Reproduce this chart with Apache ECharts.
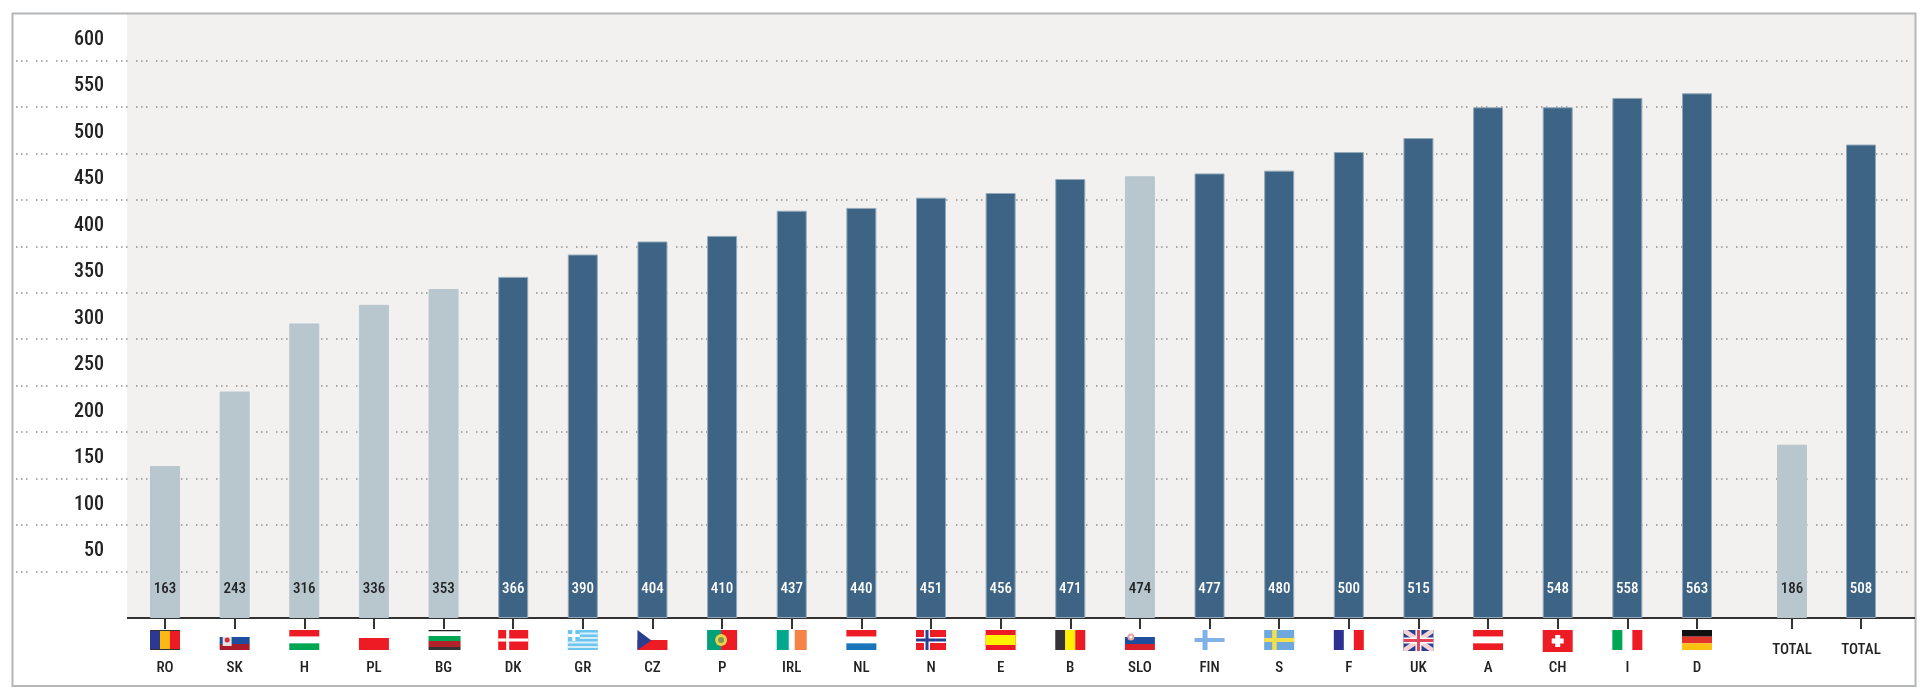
<!DOCTYPE html>
<html>
<head>
<meta charset="utf-8">
<style>html,body{margin:0;padding:0;background:#fff}#c{width:1921px;height:689px}</style>
<script src="https://cdn.jsdelivr.net/npm/echarts@6/dist/echarts.min.js"></script>
</head>
<body>
<div id="c"></div>
<script>
const countries = ['RO','SK','H','PL','BG','DK','GR','CZ','P','IRL','NL','N','E','B','SLO','FIN','S','F','UK','A','CH','I','D'];
const countryValues = [163,243,316,336,353,366,390,404,410,437,440,451,456,471,474,477,480,500,515,548,548,558,563];
const totalLabels = ['TOTAL','TOTAL'];
const totalValues = [186,508];
const lightCountries = ['RO','SK','H','PL','BG','SLO'];
const lightTotals = [0];
const unlabelled = ['A'];
const yTicks = [50,100,150,200,250,300,350,400,450,500,550,600];

const DARK = '#3e6485', LIGHT = '#b8c6ce', R = '#ed1c24', W = '#ffffff';
function rows(cols) { const h = 20 / cols.length; return cols.map((c, i) => ['r', 0, i * h, 30, h, c]); }
function colsF(cols) { const w = 30 / cols.length; return cols.map((c, i) => ['r', i * w, 0, w, 20, c]); }
const flags = {
  RO: colsF(['#2b3990', '#fdb913', R]).concat([['r', 0, 0, 30, 1, '#333'], ['r', 0, 19, 30, 1, '#333']]),
  SK: [['r', 0, 7, 30, 7, '#1f4e9c'], ['r', 0, 14, 30, 6, '#a81c2c'], ['r', 3, 7, 9, 9, '#e8dfe0'], ['c', 7.5, 10, 2.5, '#c33']],
  H: rows([R, W, '#00a651']),
  PL: [['r', 0, 8, 30, 12, R]],
  BG: [['r', 0, 0, 32, 1.2, '#222'], ['r', 0, 6, 32, 5, '#00a651'], ['r', 0, 11, 32, 6, '#b5212a'], ['r', 0, 17, 32, 3, '#333']],
  DK: [['r', 0, 0, 30, 20, R], ['r', 8, 0, 3, 20, W], ['r', 0, 8.5, 30, 3, W]],
  GR: [['r', 0, 0, 30, 20, '#6cc5ee'], ['r', 12, 2.5, 18, 2, '#d5eefa'], ['r', 12, 7, 18, 2, '#d5eefa'], ['r', 0, 11.5, 30, 2, '#d5eefa'], ['r', 0, 16, 30, 2, '#d5eefa'], ['r', 4.5, 0, 3, 11, W], ['r', 0, 4, 12, 3, W]],
  CZ: [['r', 0, 10, 30, 10, R], ['p', [[0, 0], [14, 10.5], [0, 20]], '#2b3f8f']],
  P: [['r', 0, 0, 14, 20, '#00a07a'], ['r', 14, 0, 16, 20, R], ['c', 14, 10, 6, '#e8d44a'], ['c', 14, 10, 3, '#7d9a5c']],
  IRL: [['r', 0, 0, 12, 20, '#00a88f'], ['r', 18, 0, 12, 20, '#f58345']],
  NL: rows([R, W, '#1b75bb']),
  N: [['r', 0, 0, 30, 20, R], ['r', 8, 0, 6, 20, W], ['r', 0, 7, 30, 6, W], ['r', 9.5, 0, 3, 20, '#2b3f8f'], ['r', 0, 8.5, 30, 3, '#2b3f8f']],
  E: [['r', 0, 0, 30, 20, R], ['r', 0, 5, 30, 10, '#fff200']],
  B: colsF(['#333338', '#fff200', R]),
  SLO: [['r', 0, 7, 30, 7, '#1f4e9c'], ['r', 0, 14, 30, 6, '#d8202c'], ['c', 6, 7, 3.5, '#e7a0a0'], ['c', 6, 7, 1.6, W]],
  FIN: [['r', 8, 0, 5, 20, '#7fb2e5'], ['r', 0, 8, 30, 4, '#7fb2e5']],
  S: [['r', 0, 0, 30, 20, '#6fa8dc'], ['r', 8, 0, 4.5, 20, '#f4e04d'], ['r', 0, 8, 30, 4, '#f4e04d']],
  F: [['r', 0, 0, 10, 20, '#2f3192'], ['r', 20, 0, 10, 20, R]],
  UK: [['r', 0, 0, 30, 21, '#2b3f8f'], ['p', [[0, 0], [4, 0], [30, 18], [30, 21], [26, 21], [0, 3]], '#f3d3d6'], ['p', [[30, 0], [26, 0], [0, 18], [0, 21], [4, 21], [30, 3]], '#f3d3d6'], ['r', 12, 0, 6, 21, W], ['r', 0, 7.5, 30, 6, W], ['r', 13.5, 0, 3, 21, '#e0455a'], ['r', 0, 9, 30, 3, '#e0455a']],
  A: rows([R, W, R]),
  CH: [['r', 0, 0, 30, 22, R], ['r', 12.5, 5, 5, 12, W], ['r', 9, 8.5, 12, 5, W]],
  I: [['r', 0, 0, 10, 20, '#00a651'], ['r', 20, 0, 10, 20, R]],
  D: rows(['#111111', '#e3342a', '#fdc20f'])
};

const LABEL_FONT = '"Roboto Condensed","Liberation Sans",sans-serif';
const PLOT_TOP = 14, PLOT_H = 604, AXIS_MAX = 650;
const BAR_TOP = 12.2, BAR_H = 605.8;

function barData(values, isLight, hasLabel) {
  return values.map((v, i) => {
    const light = isLight(i);
    return {
      value: v,
      itemStyle: { color: light ? LIGHT : DARK, borderColor: light ? LIGHT : '#93a9ba', borderWidth: 1 },
      label: { show: hasLabel(i), color: light ? '#222' : '#fff' }
    };
  });
}
const barSeriesBase = {
  type: 'bar', barWidth: 30, z: 3, silent: true,
  label: { position: 'insideBottom', distance: 21, fontFamily: LABEL_FONT, fontSize: 15, fontWeight: 500 }
};
function hiddenY(gridIndex) {
  return { type: 'value', gridIndex, min: 0, max: AXIS_MAX, interval: 50, show: false };
}
function xAxis(gridIndex, data, margin) {
  return {
    type: 'category', gridIndex, data,
    axisLine: { show: false },
    axisTick: { show: true, alignWithLabel: true, length: 11, lineStyle: { color: '#333', width: 2 } },
    axisLabel: { interval: 0, margin, color: '#222', fontFamily: LABEL_FONT, fontSize: 15, fontWeight: 500 },
    splitLine: { show: false }
  };
}

const option = {
  animation: false,
  backgroundColor: '#fff',
  graphic: [
    { type: 'rect', z: -20, shape: { x: 127, y: 14, width: 1788, height: 604 }, style: { fill: '#f2f1ef' }, silent: true },
    { type: 'rect', z: -10, shape: { x: 12.5, y: 13.5, width: 1903, height: 672.5 }, style: { fill: 'none', stroke: '#b4b6b8', lineWidth: 2 }, silent: true },
    { type: 'line', z: 1, shape: { x1: 127, y1: 618, x2: 1915, y2: 618 }, style: { stroke: '#333', lineWidth: 2 }, silent: true }
  ],
  grid: [
    { left: 16, width: 1896, top: PLOT_TOP, height: PLOT_H },
    { left: 130.2, width: 1601.6, top: BAR_TOP, height: BAR_H },
    { left: 1757.5, width: 138, top: BAR_TOP, height: BAR_H }
  ],
  xAxis: [
    { type: 'category', gridIndex: 0, data: [''], show: false },
    xAxis(1, countries, 43),
    xAxis(2, totalLabels, 25)
  ],
  yAxis: [
    {
      type: 'value', gridIndex: 0, min: 0, max: AXIS_MAX, interval: 50,
      axisLine: { show: false }, axisTick: { show: false },
      splitLine: { show: true, showMinLine: false, showMaxLine: false,
        lineStyle: { color: '#8f8f8f', width: 1.5, type: [1.5, 3.5, 1.5, 3.5, 1.5, 8.5] } },
      axisLabel: {
        inside: true, margin: 88, align: 'right', verticalAlign: 'bottom', padding: [0, 0, 10.5, 0],
        color: '#222', fontFamily: LABEL_FONT, fontSize: 20, fontWeight: 500,
        formatter: v => yTicks.includes(v) ? String(v) : ''
      }
    },
    hiddenY(1),
    hiddenY(2)
  ],
  series: [
    Object.assign({}, barSeriesBase, {
      xAxisIndex: 1, yAxisIndex: 1,
      data: barData(countryValues, i => lightCountries.includes(countries[i]), i => !unlabelled.includes(countries[i]))
    }),
    Object.assign({}, barSeriesBase, {
      xAxisIndex: 2, yAxisIndex: 2,
      data: barData(totalValues, i => lightTotals.includes(i), () => true)
    }),
    {
      type: 'custom', xAxisIndex: 1, yAxisIndex: 1, silent: true, clip: false, z: 4,
      data: countries.map((c, i) => [i, 0]),
      renderItem(params, api) {
        const p = api.coord([api.value(0), 0]);
        const x0 = p[0] - 15, y0 = p[1] + 12;
        const parts = flags[countries[params.dataIndex]] || [];
        return {
          type: 'group',
          children: parts.map(s => {
            if (s[0] === 'r') return { type: 'rect', shape: { x: x0 + s[1], y: y0 + s[2], width: s[3], height: s[4] }, style: { fill: s[5] } };
            if (s[0] === 'c') return { type: 'circle', shape: { cx: x0 + s[1], cy: y0 + s[2], r: s[3] }, style: { fill: s[4] } };
            return { type: 'polygon', shape: { points: s[1].map(q => [x0 + q[0], y0 + q[1]]) }, style: { fill: s[2] } };
          })
        };
      }
    }
  ]
};
echarts.init(document.getElementById('c'), null, { renderer: 'canvas' }).setOption(option);
</script>
</body>
</html>
